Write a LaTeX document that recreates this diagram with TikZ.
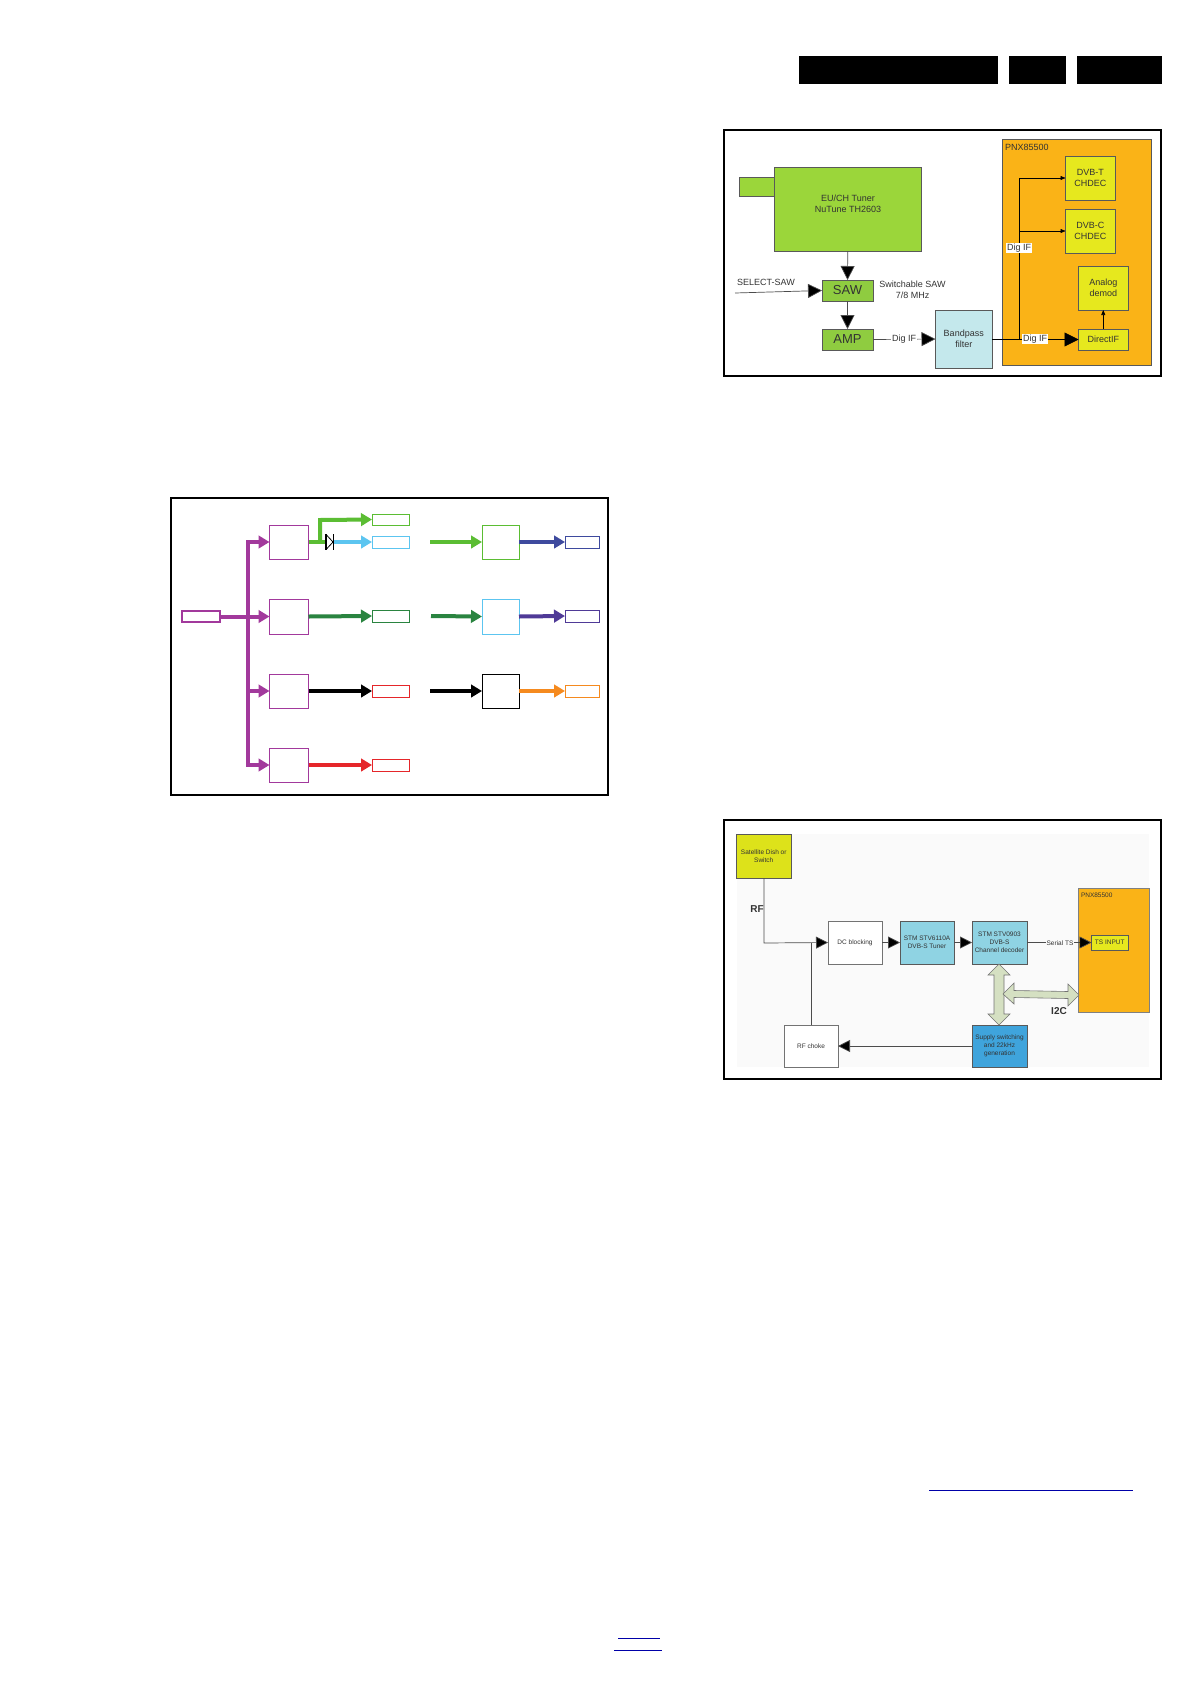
\documentclass[tikz,border=0pt]{standalone}
\usepackage{fontspec}
\setmainfont{Liberation Sans}
\usetikzlibrary{arrows.meta,positioning}
\definecolor{tunergreen}{HTML}{9BD63A}
\definecolor{sawgreen}{HTML}{8FCC40}
\definecolor{chiporange}{HTML}{FAB317}
\definecolor{chipyellow}{HTML}{E6E81E}
\definecolor{paleblue}{HTML}{C4E8EC}
\definecolor{tealblue}{HTML}{8FD3E3}
\definecolor{strongblue}{HTML}{3FA4DC}
\definecolor{satyellow}{HTML}{DDE21A}
\definecolor{busgreen}{HTML}{D5E0C2}
\definecolor{pur}{HTML}{A2399C}
\definecolor{grn}{HTML}{5BBD33}
\definecolor{sky}{HTML}{5CC5F0}
\definecolor{dgrn}{HTML}{2A8440}
\definecolor{red1}{HTML}{E5262A}
\definecolor{navy1}{HTML}{3E4A9E}
\definecolor{vio}{HTML}{4F3A97}
\definecolor{org}{HTML}{F58A1F}
\definecolor{linkblue}{HTML}{0000A8}
\newcommand{\bx}[7]{%
  \pgfmathsetmacro{\bxw}{#5-#3}\pgfmathsetmacro{\bxh}{#6-#4}%
  \pgfmathsetmacro{\bxx}{(#5+#3)/2}\pgfmathsetmacro{\bxy}{(#6+#4)/2}%
  \node[#2,minimum width=\bxw pt,minimum height=\bxh pt] (#1) at (\bxx,\bxy) {#7};}
\tikzset{
  x=1pt,y=-1pt,
  base/.style={inner sep=0pt,outer sep=0pt,align=center,text=black!80},
  frame/.style={base,draw=black,line width=1.7pt,fill=white},
  blk/.style={base,fill=black},
  chip/.style={base,draw=black!65,line width=0.8pt,font=\fontsize{9}{10.8}\selectfont},
  smalltxt/.style={font=\fontsize{6.5}{8}\selectfont},
  wbox/.style={base,draw=black!55,fill=white,line width=0.9pt},
  out/.style={base,draw=#1,line width=0.9pt,fill=white},
  lbl/.style={base,font=\fontsize{9}{10.8}\selectfont},
  conn/.style={draw=black!70,line width=0.7pt},
  big/.style={conn,-{Triangle[length=14pt,width=14pt,fill=black]}},
  midb/.style={conn,-{Triangle[length=12pt,width=12pt,fill=black]}},
  tiny/.style={draw=black,line width=0.55pt,-{Triangle[length=5pt,width=4pt]}},
  fat/.style={draw=#1,line width=4pt,-{Triangle[length=11pt,width=12.5pt,fill=#1]}},
  dbl/.style={draw=black!55,line width=0.6pt,fill=busgreen},
  bus/.style={draw=pur,line width=4pt},
  link/.style={draw=linkblue,line width=1.1pt},
}
\begin{document}
\begin{tikzpicture}
\useasboundingbox (0,0) rectangle (1191,1684);
\fill[white] (0,0) rectangle (1191,1684);
% header bars
\bx{barA}{blk}{799}{56}{998}{84}{}
\bx{barB}{blk}{1009}{56}{1066}{84}{}
\bx{barC}{blk}{1077}{56}{1162}{84}{}
% ---- frame 1
\bx{frameA}{frame}{724}{130}{1161}{376}{}
\bx{pnxA}{chip,fill=chiporange}{1002.5}{139.5}{1151}{365}{}
\node[lbl,anchor=west] (pnxAl) at (1005,147) {PNX85500};
\bx{dvbt}{chip,fill=chipyellow}{1065.5}{156}{1115}{200}{DVB-T\\CHDEC}
\bx{dvbc}{chip,fill=chipyellow}{1065.5}{209}{1115}{253}{DVB-C\\CHDEC}
\bx{analog}{chip,fill=chipyellow}{1078.5}{266}{1128}{310}{Analog\\demod}
\bx{direct}{chip,fill=chipyellow}{1078.5}{329}{1128}{350}{DirectIF}
\bx{stub}{chip,fill=tunergreen}{739.5}{177}{775}{196}{}
\bx{tuner}{chip,fill=tunergreen}{774.5}{167}{921}{251}{}
\node[lbl] (tunerl) at (848,203.5) {EU/CH Tuner\\NuTune TH2603};
\bx{saw}{chip,fill=sawgreen,font=\fontsize{13}{14}\selectfont}{822}{280}{873}{301}{SAW}
\bx{amp}{chip,fill=sawgreen,font=\fontsize{13}{14}\selectfont}{822}{329}{873}{350}{AMP}
\bx{band}{chip,fill=paleblue}{935.5}{310}{992}{368}{Bandpass\\filter}
\node[lbl] (swsaw) at (912.5,290) {Switchable SAW\\7/8 MHz};
\node[lbl] (selsaw) at (766,282) {SELECT-SAW};
\coordinate (selstart) at (735,293);
\coordinate (junA) at (1019.5,339);
\draw[big] (tuner.south) -- (saw.north);
\draw[big] (saw.south) -- (amp.north);
\draw[big] (selstart) -- (saw.west);
\draw[big] (amp.east) -- (band.west);
\draw[big,draw=black] (band.east |- direct.west) -- (direct.west);
\draw[tiny] (junA) |- (dvbt.west);
\draw[tiny] (junA |- dvbc.west) -- (dvbc.west);
\draw[tiny] (direct.north) -- (analog.south);
\node[lbl,fill=white,inner sep=0.6pt] (digA) at (904,339) {Dig IF};
\node[lbl,fill=white,inner sep=0.6pt] (digB) at (1035,339) {Dig IF};
\node[lbl,fill=white,inner sep=0.6pt] (digC) at (1019,248) {Dig IF};
% ---- frame 2
\bx{frameB}{frame}{724}{820}{1161}{1079}{}
\fill[black!2] (737,834) rectangle (1149,1067);
\bx{sat}{chip,fill=satyellow,smalltxt}{736.5}{834.5}{791}{878}{Satellite Dish or\\Switch}
\bx{pnxB}{base,fill=chiporange,draw=black!50,line width=0.6pt,smalltxt}{1078.5}{888.5}{1149}{1012}{}
\node[base,smalltxt,anchor=west] (pnxBl) at (1081,895) {PNX85500};
\bx{tsin}{chip,fill=chipyellow,smalltxt}{1091.5}{935}{1128}{950}{TS INPUT}
\bx{dcb}{wbox,smalltxt}{828}{921}{882}{964}{DC blocking}
\bx{stva}{chip,fill=tealblue,smalltxt}{900}{921}{954}{964}{STM STV6110A\\DVB-S Tuner}
\bx{stvb}{chip,fill=tealblue,smalltxt}{972}{921}{1027}{964}{STM STV0903\\DVB-S\\Channel decoder}
\bx{choke}{wbox,smalltxt}{784}{1025}{838}{1067}{RF choke}
\bx{supply}{chip,fill=strongblue,smalltxt}{972}{1025}{1027}{1067}{Supply switching\\and 22kHz\\generation}
\coordinate (rfcorner) at (764,943);
\coordinate (rfjoin) at (811,943);
\draw[midb] (sat.south -| rfcorner) -- (rfcorner) -- (dcb.west);
\draw[conn] (rfjoin) -- (rfjoin |- choke.north);
\draw[midb] (dcb.east) -- (stva.west);
\draw[midb] (stva.east) -- (stvb.west);
\draw[midb] (stvb.east) -- (tsin.west);
\draw[midb] (supply.west) -- (choke.east);
\node[base,fill=black!2,smalltxt,inner sep=0.6pt] (serial) at (1060,943) {Serial TS};
\node[base,font=\bfseries\fontsize{10}{11}\selectfont] (rflab) at (757,909) {RF};
\node[base,font=\bfseries\fontsize{10}{11}\selectfont] (i2c) at (1059,1011) {I2C};
\draw[dbl] (999,964) -- (1010,975) -- (1004,975) -- (1004,1014) -- (1010,1014) -- (999,1025) -- (988,1014) -- (994,1014) -- (994,975) -- (988,975) -- cycle;
\draw[dbl] (1003,994) -- (1014,983) -- (1014,990.5) -- (1068,991.5) -- (1068,984) -- (1079,995) -- (1068,1006) -- (1068,998.5) -- (1014,997.5) -- (1014,1004) -- cycle;
% ---- frame 3
\bx{frameC}{frame}{171}{498}{608}{795}{}
\bx{src}{out={pur},line width=1.5pt}{182}{611}{220}{622}{}
\bx{pa}{out={pur}}{269.5}{525}{308.5}{559}{}
\bx{pb}{out={pur}}{269.5}{599}{308.5}{634}{}
\bx{pc}{out={pur}}{269.5}{674}{308.5}{708}{}
\bx{pd}{out={pur}}{269.5}{748}{308.5}{782}{}
\bx{oa}{out={grn}}{372}{514}{409}{525}{}
\bx{ob}{out={sky}}{372}{536}{409}{548}{}
\bx{oc}{out={dgrn}}{372}{610}{409}{622}{}
\bx{od}{out={red1}}{372}{685}{409}{697}{}
\bx{oe}{out={red1}}{372}{759}{409}{771}{}
\bx{qa}{out={grn}}{482}{525}{519}{559}{}
\bx{qb}{out={sky}}{482}{599}{519}{634}{}
\bx{qc}{out={black}}{482}{674}{519}{708}{}
\bx{ra}{out={navy1}}{565}{536}{599}{548}{}
\bx{rb}{out={vio}}{565}{610}{599}{622}{}
\bx{rc}{out={org}}{565}{685}{599}{697}{}
\coordinate (bustop) at (248,542);
\coordinate (busbot) at (248,765);
\draw[bus,line join=miter] (bustop) -- (busbot);
\draw[bus] (src.east) -- (pb.west -| bustop);
\draw[fat={pur}] (246,542) -- (pa.west);
\draw[fat={pur}] (pb.west -| bustop) -- (pb.west);
\draw[fat={pur}] (pc.west -| bustop) -- (pc.west);
\draw[fat={pur}] (246,765) -- (pd.west);
% green and sky outputs with diode
\coordinate (dioA) at (326,542);
\coordinate (dioB) at (333,542);
\coordinate (gcorner) at (320,520);
\draw[draw=grn,line width=4pt] (pa.east) -- (dioA);
\draw[fat={grn}] (gcorner |- pa.east) -- (gcorner) -- (oa.west);
\draw[fat={sky}] (dioB) -- (ob.west);
\fill[white] (327,535) -- (333,542) -- (327,549) -- cycle;
\draw[black,line width=1.2pt] (326,534) -- (326,550);
\draw[black,line width=0.8pt] (326.5,535) -- (333,542) -- (326.5,549);
\draw[black,line width=0.8pt] (333,534) -- (333,550);
% outputs
\draw[fat={dgrn}] (pb.east) -- (oc.west);
\draw[fat={black}] (pc.east) -- (od.west);
\draw[fat={red1}] (pd.east) -- (oe.west);
\coordinate (ina) at (430,542);
\coordinate (inb) at (431,616);
\coordinate (inc) at (430,691);
\draw[fat={grn}] (ina) -- (qa.west);
\draw[fat={dgrn}] (inb) -- (qb.west);
\draw[fat={black}] (inc) -- (qc.west);
\draw[fat={navy1}] (qa.east) -- (ra.west);
\draw[fat={vio}] (qb.east) -- (rb.west);
\draw[fat={org}] (qc.east) -- (rc.west);
% link rules
\coordinate (lAa) at (929,1490.3);\coordinate (lAb) at (1133,1490.3);
\coordinate (lBa) at (618,1638.5);\coordinate (lBb) at (660,1638.5);
\coordinate (lCa) at (614,1650.3);\coordinate (lCb) at (662,1650.3);
\draw[link] (lAa) -- (lAb);
\draw[link] (lBa) -- (lBb);
\draw[link] (lCa) -- (lCb);
\end{tikzpicture}
\end{document}
